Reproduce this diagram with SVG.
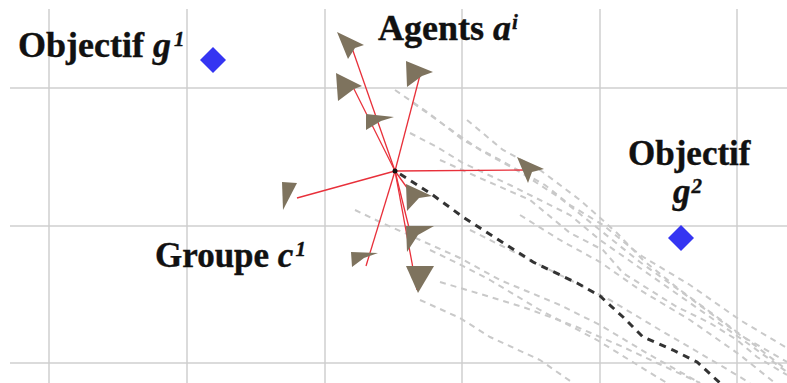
<svg xmlns="http://www.w3.org/2000/svg" width="787" height="383" viewBox="0 0 787 383">
<style>
.grid{stroke:#cfcfcf;stroke-width:1.5;fill:none}
.lbl{font-family:"Liberation Serif","Times New Roman",serif;font-weight:bold;fill:#111;stroke:#111;stroke-width:0.4}
.sup{font-size:21px;font-style:italic}
.goal{fill:#3535f2}
.head{fill:#7e735e}
.vel{stroke:#e8303a;stroke-width:1.3;fill:none}
.trail{stroke:#c9c9c9;stroke-width:2;fill:none;stroke-dasharray:6 5}
.main{stroke:#333;stroke-width:3;fill:none;stroke-dasharray:7 6}
</style>
<rect width="787" height="383" fill="#fff"/>
<g id="grid">
<path class="grid" d="M10,88H787M10,226H787M10,363H787M49,9V383M187,9V383M325,9V383M462,9V383M600,9V383M737,9V383"/>
</g>
<g id="connectors">
<g id="trajectoires">
<polyline class="trail" points="395,90 430,114 463,140 500,160 545,185 570,205 603,225 640,255 690,285 740,320 787,348"/>
<polyline class="trail" points="413,103 447,127 480,150 520,172 560,198 600,230 640,262 690,298 740,335 787,362"/>
<polyline class="trail" points="467,120 503,150 540,170 580,200 617,233 643,260 680,290 717,317 757,347 787,370"/>
<polyline class="trail" points="410,133 437,147 463,163 510,185 570,215 600,240 650,275 700,310 750,345 787,372"/>
<polyline class="trail" points="440,160 480,178 530,200 570,233 603,250 623,273 650,290 677,307 710,323 737,340 757,357 787,375"/>
<polyline class="trail" points="355,210 380,222 420,240 460,258 500,280 560,305 600,325 650,355 700,383"/>
<polyline class="trail" points="430,250 457,263 490,280 540,310 597,340 657,377 667,383"/>
<polyline class="trail" points="440,282 477,293 523,307 577,327 623,347 657,363 700,383"/>
<polyline class="trail" points="420,300 460,318 490,337 540,360 573,383"/>
<polyline class="trail" points="470,230 520,255 570,280 610,300 660,330 720,365 750,383"/>
<polyline class="trail" points="520,215 560,240 600,262 640,290 690,320 740,355 775,383"/>
<polyline class="main" points="400,174 430,193 463,217 533,262 577,283 600,296 623,317 643,337 673,350 697,362 720,383"/>
</g>
<g id="vitesses">
<line class="vel" x1="395" y1="171" x2="352" y2="48"/>
<line class="vel" x1="395" y1="171" x2="353" y2="87"/>
<line class="vel" x1="395" y1="171" x2="420" y2="75"/>
<line class="vel" x1="395" y1="171" x2="528" y2="170"/>
<line class="vel" x1="395" y1="171" x2="297" y2="198"/>
<line class="vel" x1="395" y1="171" x2="366" y2="266"/>
<line class="vel" x1="395" y1="171" x2="417" y2="290"/>
<line class="vel" x1="395" y1="171" x2="411" y2="236"/>
<line class="vel" x1="395" y1="171" x2="413" y2="196"/>
</g>
</g>
<g id="agents">
<polygon class="head" points="337,32 364,45 355,48 348,59"/>
<polygon class="head" points="336,73 362,86 354,89 338,101"/>
<polygon class="head" points="366,114 394,117 381,121 366,130"/>
<polygon class="head" points="406,61 433,72 422,76 407,87"/>
<polygon class="head" points="517,157 544,169 532,172 528,183"/>
<polygon class="head" points="282,182 297,183 283,210"/>
<polygon class="head" points="406,184 432,196 419,198 407,211"/>
<polygon class="head" points="406,226 434,226 418,235 407,252"/>
<polygon class="head" points="406,266 434,266 418,293"/>
<polygon class="head" points="351,252 378,253 364,258 352,267"/>
<circle cx="395" cy="171" r="2.5" fill="#111"/>
</g>
<g id="goal-g1">
<polygon class="goal" points="213,47 226,60 213,73 200,60"/>
<text class="lbl" x="18" y="57" font-size="36">Objectif <tspan font-style="italic">g</tspan><tspan class="sup" dx="3" dy="-11">1</tspan></text>
</g>
<g id="goal-g2">
<polygon class="goal" points="681,225 694,238 681,251 668,238"/>
<text class="lbl" x="628" y="165" font-size="35">Objectif</text>
<text class="lbl" x="673" y="203" font-size="35"><tspan font-style="italic">g</tspan><tspan class="sup" dx="1" dy="-10" font-style="normal">2</tspan></text>
</g>
<g id="label-agents">
<text class="lbl" x="378" y="40" font-size="36">Agents <tspan font-style="italic">a</tspan><tspan class="sup" dx="1" dy="-11" font-style="normal">i</tspan></text>
</g>
<g id="label-groupe">
<text class="lbl" x="155" y="267" font-size="35">Groupe <tspan font-style="italic">c</tspan><tspan class="sup" dx="2" dy="-11">1</tspan></text>
</g>
</svg>
